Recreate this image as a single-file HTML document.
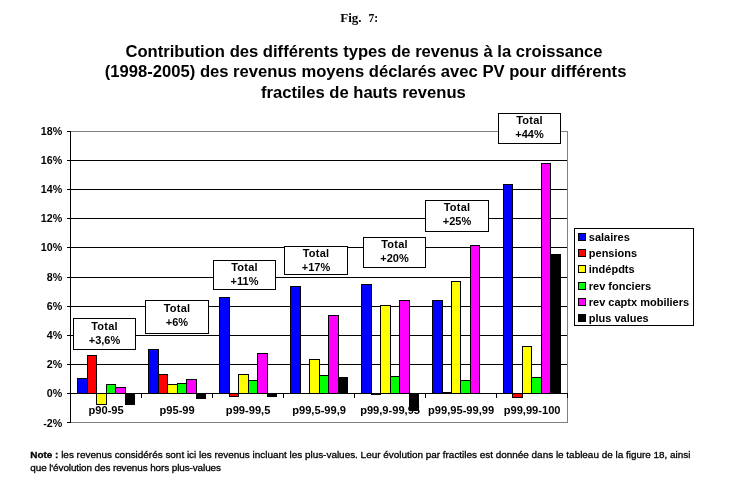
<!DOCTYPE html>
<html lang="fr"><head><meta charset="utf-8"><title>Fig. 7</title>
<style>
html,body{margin:0;padding:0;background:#fff;}
body{width:735px;height:504px;overflow:hidden;position:relative;}
svg{position:absolute;left:0;top:0;display:block;}
text{font-family:"Liberation Sans",sans-serif;fill:#000;}
.b{font-weight:bold;}
.t{font-size:16.63px;font-weight:bold;text-anchor:middle;}
.ax{font-size:11px;font-weight:bold;}
.ay{font-size:10.7px;font-weight:bold;}
.ac{font-size:11.12px;font-weight:bold;}
.fig{font-family:"Liberation Serif",serif;font-weight:bold;font-size:13px;}
.note{font-size:9.935px;stroke:#000;stroke-width:0.3px;}
</style></head><body>
<svg width="735" height="504" viewBox="0 0 735 504">

<text class="fig" y="21.9"><tspan x="340.2">Fig. </tspan><tspan x="368.6" textLength="9.6" lengthAdjust="spacingAndGlyphs">7:</tspan></text>
<text class="t" x="364.0" y="56.6">Contribution des différents types de revenus à la croissance</text>
<text class="t" x="365.6" y="77.1">(1998-2005) des revenus moyens déclarés avec PV pour différents</text>
<text class="t" x="363.4" y="97.6">fractiles de hauts revenus</text>
<g shape-rendering="crispEdges">
<line x1="70" x2="567" y1="364.5" y2="364.5" stroke="#000" stroke-width="1"/>
<line x1="70" x2="567" y1="335.5" y2="335.5" stroke="#000" stroke-width="1"/>
<line x1="70" x2="567" y1="306.5" y2="306.5" stroke="#000" stroke-width="1"/>
<line x1="70" x2="567" y1="277.5" y2="277.5" stroke="#000" stroke-width="1"/>
<line x1="70" x2="567" y1="247.5" y2="247.5" stroke="#000" stroke-width="1"/>
<line x1="70" x2="567" y1="218.5" y2="218.5" stroke="#000" stroke-width="1"/>
<line x1="70" x2="567" y1="189.5" y2="189.5" stroke="#000" stroke-width="1"/>
<line x1="70" x2="567" y1="160.5" y2="160.5" stroke="#000" stroke-width="1"/>
<path d="M70 131.5H567.5V422.5H70" fill="none" stroke="#808080" stroke-width="1"/>
<rect x="77.5" y="378.5" width="10" height="15" fill="#0000ff" stroke="#000" stroke-width="1"/>
<rect x="87.5" y="355.5" width="9" height="38" fill="#ff0000" stroke="#000" stroke-width="1"/>
<rect x="96.5" y="393.5" width="10" height="11" fill="#ffff00" stroke="#000" stroke-width="1"/>
<rect x="106.5" y="384.5" width="9" height="9" fill="#00ff00" stroke="#000" stroke-width="1"/>
<rect x="115.5" y="387.5" width="10" height="6" fill="#ff00ff" stroke="#000" stroke-width="1"/>
<rect x="125.5" y="393.5" width="9" height="11" fill="#000000" stroke="#000" stroke-width="1"/>
<rect x="148.5" y="349.5" width="10" height="44" fill="#0000ff" stroke="#000" stroke-width="1"/>
<rect x="158.5" y="374.5" width="9" height="19" fill="#ff0000" stroke="#000" stroke-width="1"/>
<rect x="167.5" y="384.5" width="10" height="9" fill="#ffff00" stroke="#000" stroke-width="1"/>
<rect x="177.5" y="383.5" width="9" height="10" fill="#00ff00" stroke="#000" stroke-width="1"/>
<rect x="186.5" y="379.5" width="10" height="14" fill="#ff00ff" stroke="#000" stroke-width="1"/>
<rect x="196.5" y="393.5" width="9" height="5" fill="#000000" stroke="#000" stroke-width="1"/>
<rect x="219.5" y="297.5" width="10" height="96" fill="#0000ff" stroke="#000" stroke-width="1"/>
<rect x="229.5" y="393.5" width="9" height="3" fill="#ff0000" stroke="#000" stroke-width="1"/>
<rect x="238.5" y="374.5" width="10" height="19" fill="#ffff00" stroke="#000" stroke-width="1"/>
<rect x="248.5" y="380.5" width="9" height="13" fill="#00ff00" stroke="#000" stroke-width="1"/>
<rect x="257.5" y="353.5" width="10" height="40" fill="#ff00ff" stroke="#000" stroke-width="1"/>
<rect x="267.5" y="393.5" width="9" height="3" fill="#000000" stroke="#000" stroke-width="1"/>
<rect x="290.5" y="286.5" width="10" height="107" fill="#0000ff" stroke="#000" stroke-width="1"/>
<rect x="309.5" y="359.5" width="10" height="34" fill="#ffff00" stroke="#000" stroke-width="1"/>
<rect x="319.5" y="375.5" width="9" height="18" fill="#00ff00" stroke="#000" stroke-width="1"/>
<rect x="328.5" y="315.5" width="10" height="78" fill="#ff00ff" stroke="#000" stroke-width="1"/>
<rect x="338.5" y="377.5" width="9" height="16" fill="#000000" stroke="#000" stroke-width="1"/>
<rect x="361.5" y="284.5" width="10" height="109" fill="#0000ff" stroke="#000" stroke-width="1"/>
<rect x="371.5" y="393.5" width="9" height="1" fill="#ff0000" stroke="#000" stroke-width="1"/>
<rect x="380.5" y="305.5" width="10" height="88" fill="#ffff00" stroke="#000" stroke-width="1"/>
<rect x="390.5" y="376.5" width="9" height="17" fill="#00ff00" stroke="#000" stroke-width="1"/>
<rect x="399.5" y="300.5" width="10" height="93" fill="#ff00ff" stroke="#000" stroke-width="1"/>
<rect x="409.5" y="393.5" width="9" height="17" fill="#000000" stroke="#000" stroke-width="1"/>
<rect x="432.5" y="300.5" width="10" height="93" fill="#0000ff" stroke="#000" stroke-width="1"/>
<rect x="442.5" y="392.5" width="9" height="1" fill="#ff0000" stroke="#000" stroke-width="1"/>
<rect x="451.5" y="281.5" width="9" height="112" fill="#ffff00" stroke="#000" stroke-width="1"/>
<rect x="460.5" y="380.5" width="10" height="13" fill="#00ff00" stroke="#000" stroke-width="1"/>
<rect x="470.5" y="245.5" width="9" height="148" fill="#ff00ff" stroke="#000" stroke-width="1"/>
<rect x="503.5" y="184.5" width="9" height="209" fill="#0000ff" stroke="#000" stroke-width="1"/>
<rect x="512.5" y="393.5" width="10" height="4" fill="#ff0000" stroke="#000" stroke-width="1"/>
<rect x="522.5" y="346.5" width="9" height="47" fill="#ffff00" stroke="#000" stroke-width="1"/>
<rect x="531.5" y="377.5" width="10" height="16" fill="#00ff00" stroke="#000" stroke-width="1"/>
<rect x="541.5" y="163.5" width="9" height="230" fill="#ff00ff" stroke="#000" stroke-width="1"/>
<rect x="550.5" y="254.5" width="10" height="139" fill="#000000" stroke="#000" stroke-width="1"/>
<line x1="70.5" x2="70.5" y1="131" y2="423" stroke="#000"/>
<line x1="70" x2="568" y1="393.5" y2="393.5" stroke="#000"/>
<line x1="67" x2="70" y1="422.5" y2="422.5" stroke="#000"/>
<line x1="67" x2="70" y1="393.5" y2="393.5" stroke="#000"/>
<line x1="67" x2="70" y1="364.5" y2="364.5" stroke="#000"/>
<line x1="67" x2="70" y1="335.5" y2="335.5" stroke="#000"/>
<line x1="67" x2="70" y1="306.5" y2="306.5" stroke="#000"/>
<line x1="67" x2="70" y1="277.5" y2="277.5" stroke="#000"/>
<line x1="67" x2="70" y1="247.5" y2="247.5" stroke="#000"/>
<line x1="67" x2="70" y1="218.5" y2="218.5" stroke="#000"/>
<line x1="67" x2="70" y1="189.5" y2="189.5" stroke="#000"/>
<line x1="67" x2="70" y1="160.5" y2="160.5" stroke="#000"/>
<line x1="67" x2="70" y1="131.5" y2="131.5" stroke="#000"/>
<line x1="70.5" x2="70.5" y1="393" y2="398" stroke="#000"/>
<line x1="141.5" x2="141.5" y1="393" y2="398" stroke="#000"/>
<line x1="212.5" x2="212.5" y1="393" y2="398" stroke="#000"/>
<line x1="283.5" x2="283.5" y1="393" y2="398" stroke="#000"/>
<line x1="354.5" x2="354.5" y1="393" y2="398" stroke="#000"/>
<line x1="425.5" x2="425.5" y1="393" y2="398" stroke="#000"/>
<line x1="496.5" x2="496.5" y1="393" y2="398" stroke="#000"/>
<line x1="567.5" x2="567.5" y1="393" y2="398" stroke="#000"/>
<rect x="73.5" y="318.5" width="62" height="31" fill="#fff" stroke="#000"/>
<rect x="145.5" y="300.5" width="63" height="33" fill="#fff" stroke="#000"/>
<rect x="213.5" y="260.5" width="62" height="29" fill="#fff" stroke="#000"/>
<rect x="284.5" y="246.5" width="63" height="28" fill="#fff" stroke="#000"/>
<rect x="363.5" y="237.5" width="62" height="30" fill="#fff" stroke="#000"/>
<rect x="425.5" y="200.5" width="63" height="31" fill="#fff" stroke="#000"/>
<rect x="498.5" y="113.5" width="62" height="30" fill="#fff" stroke="#000"/>
<rect x="574.5" y="228.5" width="119" height="97" fill="#fff" stroke="#000"/>
<rect x="578.5" y="233.5" width="7" height="7" fill="#0000ff" stroke="#000"/>
<rect x="578.5" y="249.5" width="7" height="7" fill="#ff0000" stroke="#000"/>
<rect x="578.5" y="265.5" width="7" height="7" fill="#ffff00" stroke="#000"/>
<rect x="578.5" y="282.5" width="7" height="7" fill="#00ff00" stroke="#000"/>
<rect x="578.5" y="298.5" width="7" height="7" fill="#ff00ff" stroke="#000"/>
<rect x="578.5" y="314.5" width="7" height="7" fill="#000000" stroke="#000"/>
</g>
<text class="ay" x="62.2" y="426.7" text-anchor="end">-2%</text>
<text class="ay" x="62.2" y="396.9" text-anchor="end">0%</text>
<text class="ay" x="62.2" y="367.9" text-anchor="end">2%</text>
<text class="ay" x="62.2" y="338.9" text-anchor="end">4%</text>
<text class="ay" x="62.2" y="309.9" text-anchor="end">6%</text>
<text class="ay" x="62.2" y="280.9" text-anchor="end">8%</text>
<text class="ay" x="62.2" y="250.9" text-anchor="end">10%</text>
<text class="ay" x="62.2" y="221.9" text-anchor="end">12%</text>
<text class="ay" x="62.2" y="192.9" text-anchor="end">14%</text>
<text class="ay" x="62.2" y="163.9" text-anchor="end">16%</text>
<text class="ay" x="62.2" y="134.9" text-anchor="end">18%</text>
<text class="ac" x="106.1" y="413.6" text-anchor="middle">p90-95</text>
<text class="ac" x="177.1" y="413.6" text-anchor="middle">p95-99</text>
<text class="ac" x="248.1" y="413.6" text-anchor="middle">p99-99,5</text>
<text class="ac" x="319.1" y="413.6" text-anchor="middle">p99,5-99,9</text>
<text class="ac" x="390.1" y="413.6" text-anchor="middle">p99,9-99,95</text>
<text class="ac" x="461.1" y="413.6" text-anchor="middle">p99,95-99,99</text>
<text class="ac" x="532.1" y="413.6" text-anchor="middle">p99,99-100</text>
<text class="ax" x="104.5" y="329.7" text-anchor="middle" letter-spacing="0.2">Total</text>
<text class="ax" x="104.5" y="344.1" text-anchor="middle">+3,6%</text>
<text class="ax" x="177.0" y="311.6" text-anchor="middle" letter-spacing="0.2">Total</text>
<text class="ax" x="177.0" y="326.2" text-anchor="middle">+6%</text>
<text class="ax" x="244.5" y="271.0" text-anchor="middle" letter-spacing="0.2">Total</text>
<text class="ax" x="244.5" y="285.4" text-anchor="middle">+11%</text>
<text class="ax" x="316.0" y="257.0" text-anchor="middle" letter-spacing="0.2">Total</text>
<text class="ax" x="316.0" y="271.4" text-anchor="middle">+17%</text>
<text class="ax" x="394.5" y="247.9" text-anchor="middle" letter-spacing="0.2">Total</text>
<text class="ax" x="394.5" y="262.1" text-anchor="middle">+20%</text>
<text class="ax" x="457.0" y="211.1" text-anchor="middle" letter-spacing="0.2">Total</text>
<text class="ax" x="457.0" y="225.0" text-anchor="middle">+25%</text>
<text class="ax" x="529.5" y="124.0" text-anchor="middle" letter-spacing="0.2">Total</text>
<text class="ax" x="529.5" y="137.9" text-anchor="middle">+44%</text>
<text class="ax" x="588.8" y="241.0">salaires</text>
<text class="ax" x="588.8" y="257.0">pensions</text>
<text class="ax" x="588.8" y="273.0">indépdts</text>
<text class="ax" x="588.8" y="289.5">rev fonciers</text>
<text class="ax" x="588.8" y="305.8">rev captx mobiliers</text>
<text class="ax" x="588.8" y="322.0">plus values</text>
<text class="note" x="30.3" y="457.8"><tspan class="b">Note :</tspan> les revenus considérés sont ici les revenus incluant les plus-values. Leur évolution par fractiles est donnée dans le tableau de la figure 18, ainsi</text>
<text class="note" x="30.3" y="470.8" letter-spacing="-0.1">que l'évolution des revenus hors plus-values</text>
</svg></body></html>
